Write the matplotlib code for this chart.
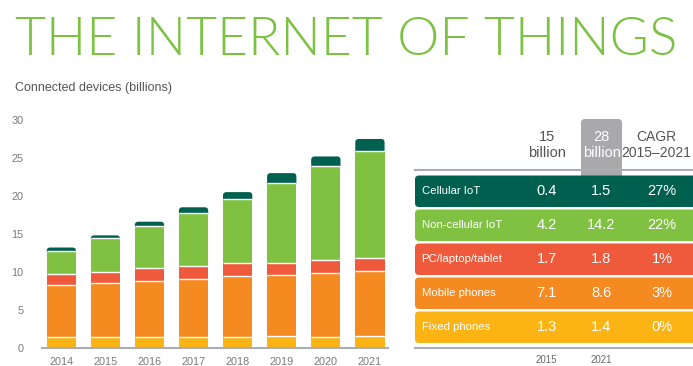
import matplotlib
matplotlib.use("Agg")
import matplotlib.pyplot as plt
from matplotlib.patches import FancyBboxPatch
from matplotlib import font_manager

# connected devices per year, billions (stacked bottom -> top)
years = ["2014", "2015", "2016", "2017", "2018", "2019", "2020", "2021"]
fixed_phones = [1.4, 1.4, 1.4, 1.4, 1.4, 1.5, 1.4, 1.5]
mobile_phones = [6.8, 7.1, 7.4, 7.7, 8.0, 8.1, 8.4, 8.55]
pc_laptop = [1.5, 1.5, 1.65, 1.7, 1.7, 1.6, 1.75, 1.75]
noncell_iot = [3.0, 4.4, 5.55, 6.9, 8.5, 10.5, 12.45, 14.1]
cell_iot = [0.5, 0.4, 0.6, 0.8, 0.9, 1.3, 1.2, 1.6]

# summary table
row_names = ["Cellular IoT", "Non-cellular IoT", "PC/laptop/tablet", "Mobile phones", "Fixed phones"]
vals_2015 = ["0.4", "4.2", "1.7", "7.1", "1.3"]
vals_2021 = ["1.5", "14.2", "1.8", "8.6", "1.4"]
cagr = ["27%", "22%", "1%", "3%", "0%"]
col_heads = ["15\nbillion", "28\nbillion", "CAGR\n2015\u20132021"]
col_foot = ["2015", "2021"]

C_CELL = "#00604f"
C_NONCELL = "#80c142"
C_PC = "#f05a3c"
C_MOBILE = "#f58a21"
C_FIXED = "#fcb415"
row_colors = [C_CELL, C_NONCELL, C_PC, C_MOBILE, C_FIXED]

plt.rcParams["font.family"] = ["Liberation Sans", "DejaVu Sans"]

# pick a light face for the headline if one is installed
title_prop = font_manager.FontProperties(family="DejaVu Sans")
for fam in ["Lato", "Open Sans", "Roboto", "Inter", "DejaVu Sans"]:
    thin = [f for f in font_manager.fontManager.ttflist
            if f.name == fam and isinstance(f.weight, int) and f.weight <= 300 and f.style == "normal"]
    if thin:
        thin.sort(key=lambda f: -f.weight)
        title_prop = font_manager.FontProperties(fname=thin[0].fname)
        break

W, H = 693, 366
fig = plt.figure(figsize=(W / 100, H / 100), dpi=100)

# bar chart axes
ax = fig.add_axes([41.7 / W, 1 - 347.7 / H, (388 - 41.7) / W, (347.7 - 120) / H])
x = list(range(len(years)))
bw = 0.665
xpx = (388 - 41.7) / 7.855
ypx = (347.7 - 120) / 30

stack = [fixed_phones, mobile_phones, pc_laptop, noncell_iot]
stack_cols = [C_FIXED, C_MOBILE, C_PC, C_NONCELL]
bottom = [0.0] * len(years)
bounds = []
for vals, col in zip(stack, stack_cols):
    ax.bar(x, vals, bw, bottom=bottom, color=col, linewidth=0, zorder=2)
    bottom = [b + v for b, v in zip(bottom, vals)]
    bounds.append(list(bottom))

# dark cap with rounded top corners, tucked under the green segment's top
for i, (top, c) in enumerate(zip(bottom, cell_iot)):
    ax.add_patch(FancyBboxPatch((i - bw / 2, top - 0.4), bw, c + 0.4,
                                boxstyle="round,pad=0,rounding_size=%f" % (3.5 / xpx),
                                mutation_aspect=xpx / ypx,
                                facecolor=C_CELL, edgecolor="none", zorder=1))
ax.bar(x, [0.45] * len(years), bw, bottom=[t - 0.45 for t in bottom],
       color=C_NONCELL, linewidth=0, zorder=2)

# thin white separators between segments
for level in bounds:
    ax.hlines(level, [i - bw / 2 for i in x], [i + bw / 2 for i in x],
              colors="white", linewidth=1.0, zorder=3)

ax.set_xlim(-0.445, 7.41)
ax.set_ylim(0, 30)
ax.set_yticks(range(0, 31, 5))
ax.set_xticks(x)
ax.set_xticklabels(years)
ax.tick_params(length=0, labelsize=7.8, colors="#7a7a7a")
ax.tick_params(axis="y", pad=13)
ax.tick_params(axis="x", pad=7)
for s in ["top", "right", "left"]:
    ax.spines[s].set_visible(False)
ax.spines["bottom"].set_color("#a8aeb4")
ax.spines["bottom"].set_linewidth(1.5)
ax.spines["bottom"].set_zorder(4)

# overlay axes in pixel coordinates for title and table
ov = fig.add_axes([0, 0, 1, 1])
ov.set_xlim(0, W)
ov.set_ylim(H, 0)
ov.axis("off")

title = ov.text(15, 55, "THE INTERNET OF THINGS", fontproperties=title_prop, fontsize=40,
                color="#7cc242", va="baseline", ha="left")
renderer = fig.canvas.get_renderer()
tw = title.get_window_extent(renderer).width
title.set_fontsize(40 * 660 / tw)

ov.text(15, 88, "Connected devices (billions)", fontsize=9, color="#555555", va="center")

# header
ov.add_patch(FancyBboxPatch((581, 119), 41, 60, boxstyle="round,pad=0,rounding_size=4",
                            facecolor="#a9a9ab", edgecolor="none"))
head_x = [546.7, 601.5, 656]
val_x = [546.7, 601.5, 662]
head_fs = [10.5, 10.5, 10]
for hx, txt, colr, fs in zip(head_x, col_heads, ["#555555", "white", "#555555"], head_fs):
    ov.text(hx, 145, txt, fontsize=fs, color=colr, ha="center", va="center", linespacing=1.15)
ov.plot([415, W], [170, 170], color="#a8aeb4", lw=1.5)
ov.plot([415, W], [348, 348], color="#a8aeb4", lw=1.5)

row_top = 175.5
row_h = 31.5
row_step = 34
for k, (nm, a, b, c, colr) in enumerate(zip(row_names, vals_2015, vals_2021, cagr, row_colors)):
    y0 = row_top + k * row_step
    ov.add_patch(FancyBboxPatch((415, y0), 300, row_h, boxstyle="round,pad=0,rounding_size=4",
                                facecolor=colr, edgecolor="none"))
    yc = y0 + row_h / 2
    ov.text(421.5, yc, nm, fontsize=8.2, color="white", va="center", ha="left")
    for hx, v in zip(val_x, [a, b, c]):
        ov.text(hx, yc, v, fontsize=10.5, color="white", va="center", ha="center")

for hx, t in zip(head_x, col_foot):
    ov.text(hx, 360, t, fontsize=7, color="#666666", va="center", ha="center")

fig.savefig("out.png", dpi=100)
